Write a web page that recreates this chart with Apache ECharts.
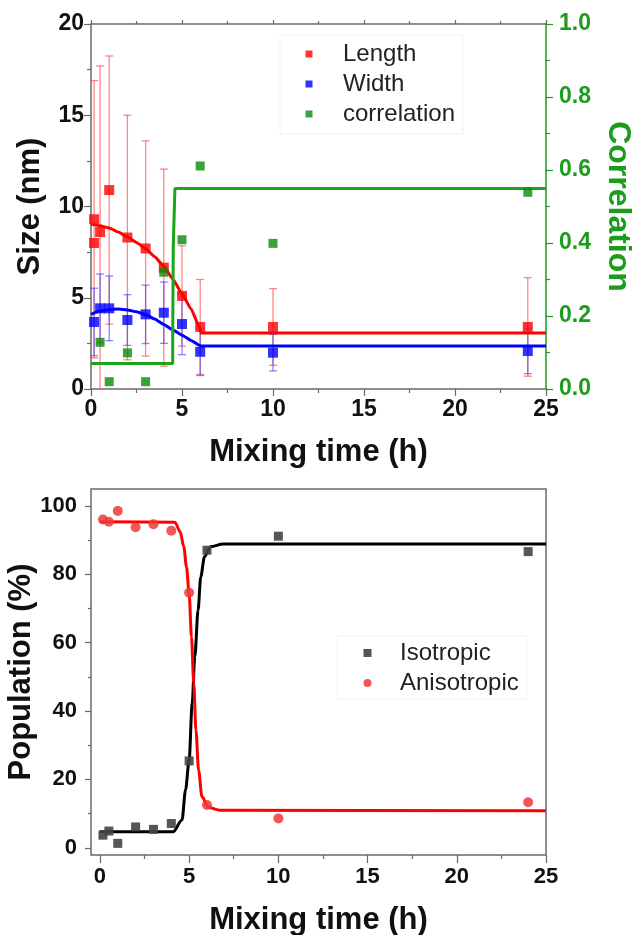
<!DOCTYPE html>
<html><head><meta charset="utf-8">
<script src="https://cdn.jsdelivr.net/npm/echarts@6/dist/echarts.min.js"></script>
<style>html,body{margin:0;padding:0;background:#fff}#c{width:632px;height:935px}</style>
</head><body><div id="c"></div>
<script>
// ---------- Top panel data ----------
const lengthTime = [0.17, 0.17, 0.5, 1, 2, 3, 4, 5, 6, 10, 24];
const lengthVal  = [9.3, 8.0, 8.6, 10.9, 8.3, 7.7, 6.65, 5.1, 3.4, 3.4, 3.4];
const lengthErr  = [7.6, null, 9.1, 7.35, 6.7, 5.9, 5.4, 2.75, 2.6, 2.1, 2.7];

const widthTime = [0.17, 0.5, 1, 2, 3, 4, 5, 6, 10, 24];
const widthVal  = [3.67, 4.42, 4.42, 3.78, 4.09, 4.18, 3.56, 2.04, 1.99, 2.08];
const widthErr  = [1.85, 1.88, 1.77, 1.39, 1.6, 1.68, 1.68, 1.3, 1.0, 1.24];

const corrTime = [0.5, 1, 2, 3, 4, 5, 6, 10, 24];
const corrVal  = [0.128, 0.02, 0.099, 0.02, 0.32, 0.409, 0.611, 0.399, 0.539];

const lengthFitX = [0, 0.5, 1, 1.5, 2, 2.5, 3, 3.5, 4, 4.5, 5, 5.5, 5.95, 6.05, 25];
const lengthFitY = [9.02, 8.95, 8.82, 8.6, 8.33, 8.03, 7.68, 7.25, 6.72, 6.02, 5.22, 4.38, 3.4, 3.07, 3.07];
const widthFitX = [0, 0.5, 1, 1.5, 2, 2.5, 3, 3.5, 4, 4.5, 5, 5.5, 5.95, 6.05, 25];
const widthFitY = [4.09, 4.27, 4.36, 4.38, 4.33, 4.23, 4.07, 3.83, 3.53, 3.23, 2.95, 2.66, 2.4, 2.36, 2.36];
const corrFitX = [0, 4.49, 4.49, 4.52, 4.52, 4.61, 4.61, 25];
const corrFitY = [0.07, 0.07, 0.145, 0.145, 0.39, 0.39, 0.549, 0.549];

// ---------- Bottom panel data ----------
const popTime   = [0.17, 0.5, 1, 2, 3, 4, 5, 6, 10, 24];
const isoVal    = [3.7, 4.9, 1.3, 6.1, 5.4, 7.1, 25.4, 87.0, 91.1, 86.6];
const anisoVal  = [96.0, 95.3, 98.5, 93.7, 94.6, 92.7, 74.6, 12.5, 8.6, 13.3];

const isoFitX = [0, 4.1, 4.6, 4.8, 5.0, 5.17, 5.32, 5.5, 5.65, 5.86, 6.2, 6.9, 25];
const isoFitY = [4.7, 4.7, 8.1, 17, 25.6, 42.3, 55.9, 69.5, 79.2, 85.1, 88, 88.8, 88.8];
const anisoFitX = [0, 4.2, 4.5, 4.7, 4.85, 5.0, 5.13, 5.26, 5.38, 5.53, 5.72, 6.08, 6.74, 25];
const anisoFitY = [95.3, 95.2, 92.4, 88, 82.2, 74.4, 61.7, 48, 34.4, 22.7, 14.9, 11.8, 11.0, 10.8];

// ---------- Tick values ----------
const popXTicks = [0, 5, 10, 15, 20, 25];
const popXMinor = [2.5, 7.5, 12.5, 17.5, 22.5];
const popYTicks = [0, 20, 40, 60, 80, 100];
const popYMinor = [10, 30, 50, 70, 90];

const FONT = "'Liberation Sans', Arial, sans-serif";
const AX = '#6a6a6a';
const GREEN = '#1c9c1c';
const sq = 'path://M0,0L10,0L10,10L0,10Z';
// legend icons: a small mark centred in a wide invisible box
const legSqTop = 'path://M0,0M58,7M25.5,0L32.5,0L32.5,7L25.5,7Z';
const legSqBot = 'path://M0,0M55,8M23.5,0L31.5,0L31.5,8L23.5,8Z';
const legCircBot = 'path://M0,0M55,8M23.5,4A4,4,0,1,0,31.5,4A4,4,0,1,0,23.5,4Z';

function pairs(xs, ys) { return xs.map((x, i) => [x, ys[i]]); }
function errData(xs, ys, es) {
  return xs.map((x, i) => [x, ys[i], es[i]]).filter(d => d[2] != null);
}
function errRender(color) {
  return function (params, api) {
    const x = api.value(0), y = api.value(1), e = api.value(2);
    const cs = params.coordSys;
    const yMin = cs.y, yMax = cs.y + cs.height;
    const pt = api.coord([x, y + e]);
    const pb = api.coord([x, y - e]);
    const t = Math.max(yMin, pt[1]);
    const b = Math.min(yMax, pb[1]);
    const st = { stroke: color, lineWidth: 1.3 };
    const ch = [{ type: 'line', shape: { x1: pt[0], y1: t, x2: pt[0], y2: b }, style: st }];
    if (pt[1] >= yMin) ch.push({ type: 'line', shape: { x1: pt[0] - 4, y1: pt[1], x2: pt[0] + 4, y2: pt[1] }, style: st });
    if (pb[1] <= yMax) ch.push({ type: 'line', shape: { x1: pb[0] - 4, y1: pb[1], x2: pb[0] + 4, y2: pb[1] }, style: st });
    return { type: 'group', children: ch };
  };
}

const tickLbl = (size, color) => ({ fontFamily: FONT, fontWeight: 'bold', fontSize: size, color: color || '#111' });
const nameStyle = (color) => ({ fontFamily: FONT, fontWeight: 'bold', fontSize: 31, color: color || '#111' });

const chart = echarts.init(document.getElementById('c'));
chart.setOption({
  animation: false,
  backgroundColor: '#fff',
  grid: [
    { left: 91, top: 24, width: 455, height: 365, show: false, outerBoundsMode: 'none', containLabel: false },
    { left: 91, top: 489, width: 455, height: 366, show: true, borderColor: AX, borderWidth: 1.5, backgroundColor: '#fff', outerBoundsMode: 'none', containLabel: false }
  ],
  legend: [
    {
      orient: 'vertical', left: 280, top: 35, padding: [7, 8, 8, 0],
      itemWidth: 58, itemHeight: 7, itemGap: 6, symbolKeepAspect: false,
      backgroundColor: '#fff', borderColor: '#f2f2f2', borderWidth: 1,
      textStyle: { fontFamily: FONT, fontSize: 24, color: '#222', lineHeight: 23 },
      data: [
        { name: 'Length', icon: legSqTop, itemStyle: { color: '#ff0000' } },
        { name: 'Width', icon: legSqTop, itemStyle: { color: '#0000ff' } },
        { name: 'correlation', icon: legSqTop, itemStyle: { color: '#0a8a0a' } }
      ]
    },
    {
      orient: 'vertical', left: 337, top: 636, padding: [5, 8, 4, 3],
      itemWidth: 55, itemHeight: 8, itemGap: 6, symbolKeepAspect: false,
      backgroundColor: '#fff', borderColor: '#f2f2f2', borderWidth: 1,
      textStyle: { fontFamily: FONT, fontSize: 24, color: '#222', lineHeight: 23 },
      data: [
        { name: 'Isotropic', icon: legSqBot, itemStyle: { color: '#444' } },
        { name: 'Anisotropic', icon: legCircBot, itemStyle: { color: '#f03a3a' } }
      ]
    }
  ],
  xAxis: [
    {
      gridIndex: 0, type: 'value', min: 0, max: 25, interval: 5, position: 'bottom',
      axisLine: { onZero: false, lineStyle: { color: AX, width: 1.5 } },
      axisTick: { length: 7, lineStyle: { color: AX, width: 1.2 } },
      minorTick: { show: true, splitNumber: 2, length: 4, lineStyle: { color: AX, width: 1.2 } },
      splitLine: { show: false },
      axisLabel: Object.assign({ margin: 9 }, tickLbl(23)),
      name: 'Mixing time (h)', nameLocation: 'middle', nameGap: 48, nameTextStyle: nameStyle()
    },
    {
      gridIndex: 0, type: 'value', min: 0, max: 25, interval: 5, position: 'top',
      axisLine: { onZero: false, lineStyle: { color: AX, width: 1.5 } },
      axisTick: { length: 4, lineStyle: { color: AX, width: 1.2 } },
      minorTick: { show: true, splitNumber: 2, length: 3, lineStyle: { color: AX, width: 1.2 } },
      splitLine: { show: false }, axisLabel: { show: false }
    },
    {
      gridIndex: 1, type: 'value', min: -0.5, max: 25, position: 'bottom',
      axisLine: { show: false, onZero: false },
      axisTick: { show: true, customValues: popXTicks, length: 8, lineStyle: { color: AX, width: 1.2 } },
      splitLine: { show: false },
      axisLabel: Object.assign({ margin: 11, customValues: popXTicks }, tickLbl(22)),
      name: 'Mixing time (h)', nameLocation: 'middle', nameGap: 50, nameTextStyle: nameStyle()
    },
    {
      gridIndex: 1, type: 'value', min: -0.5, max: 25, position: 'bottom',
      axisLine: { show: false, onZero: false },
      axisTick: { show: true, customValues: popXMinor, length: 4, lineStyle: { color: AX, width: 1.2 } },
      splitLine: { show: false }, axisLabel: { show: false }
    }
  ],
  yAxis: [
    {
      gridIndex: 0, type: 'value', min: 0, max: 20, interval: 5, position: 'left',
      axisLine: { show: true, onZero: false, lineStyle: { color: AX, width: 1.5 } },
      axisTick: { show: true, length: 7, lineStyle: { color: AX, width: 1.2 } },
      minorTick: { show: true, splitNumber: 2, length: 4, lineStyle: { color: AX, width: 1.2 } },
      splitLine: { show: false },
      axisLabel: Object.assign({ margin: 7 }, tickLbl(23)),
      name: 'Size (nm)', nameLocation: 'middle', nameRotate: 90, nameGap: 45, nameTextStyle: nameStyle()
    },
    {
      gridIndex: 0, type: 'value', min: 0, max: 1, interval: 0.2, position: 'right',
      axisLine: { show: true, onZero: false, lineStyle: { color: GREEN, width: 1.5 } },
      axisTick: { show: true, length: 7, lineStyle: { color: GREEN, width: 1.2 } },
      minorTick: { show: true, splitNumber: 2, length: 4, lineStyle: { color: GREEN, width: 1.2 } },
      splitLine: { show: false },
      axisLabel: Object.assign({ margin: 13, formatter: v => v.toFixed(1) }, tickLbl(23, GREEN)),
      name: 'Correlation', nameLocation: 'middle', nameRotate: -90, nameGap: 56,
      nameTextStyle: Object.assign(nameStyle(GREEN), { fontSize: 32 })
    },
    {
      gridIndex: 1, type: 'value', min: -2.1, max: 104.9, position: 'left',
      axisLine: { show: false, onZero: false },
      axisTick: { show: true, customValues: popYTicks, length: 6, lineStyle: { color: AX, width: 1.2 } },
      splitLine: { show: false },
      axisLabel: Object.assign({ margin: 14, customValues: popYTicks }, tickLbl(22)),
      name: 'Population (%)', nameLocation: 'middle', nameRotate: 90, nameGap: 54, nameMoveOverlap: false,
      nameTextStyle: nameStyle()
    },
    {
      gridIndex: 1, type: 'value', min: -2.1, max: 104.9, position: 'left',
      axisLine: { show: false, onZero: false },
      axisTick: { show: true, customValues: popYMinor, length: 3, lineStyle: { color: AX, width: 1.2 } },
      splitLine: { show: false }, axisLabel: { show: false }
    }
  ],
  series: [
    { type: 'custom', name: 'LengthErr', xAxisIndex: 0, yAxisIndex: 0, renderItem: errRender('rgba(255,70,70,0.65)'),
      data: errData(lengthTime, lengthVal, lengthErr), z: 1, silent: true },
    { type: 'custom', name: 'WidthErr', xAxisIndex: 0, yAxisIndex: 0, renderItem: errRender('rgba(70,70,255,0.65)'),
      data: errData(widthTime, widthVal, widthErr), z: 1, silent: true },
    { type: 'line', name: 'LengthFit', xAxisIndex: 0, yAxisIndex: 0, data: pairs(lengthFitX, lengthFitY),
      showSymbol: false, smooth: 0.15, smoothMonotone: 'x', lineStyle: { color: '#ff0000', width: 3 }, z: 2 },
    { type: 'line', name: 'WidthFit', xAxisIndex: 0, yAxisIndex: 0, data: pairs(widthFitX, widthFitY),
      showSymbol: false, smooth: 0.15, smoothMonotone: 'x', lineStyle: { color: '#0000ff', width: 3 }, z: 2 },
    { type: 'line', name: 'CorrFit', xAxisIndex: 0, yAxisIndex: 1, data: pairs(corrFitX, corrFitY),
      showSymbol: false, lineStyle: { color: '#1aa51a', width: 3 }, z: 2 },
    { type: 'scatter', name: 'Length', xAxisIndex: 0, yAxisIndex: 0, data: pairs(lengthTime, lengthVal),
      symbol: sq, symbolSize: 10, itemStyle: { color: '#ff0000' }, z: 3 },
    { type: 'scatter', name: 'Width', xAxisIndex: 0, yAxisIndex: 0, data: pairs(widthTime, widthVal),
      symbol: sq, symbolSize: 10, itemStyle: { color: '#0000ff' }, z: 3 },
    { type: 'scatter', name: 'correlation', xAxisIndex: 0, yAxisIndex: 1, data: pairs(corrTime, corrVal),
      symbol: sq, symbolSize: 9, itemStyle: { color: '#0a8a0a' }, z: 3 },

    { type: 'line', name: 'IsoFit', xAxisIndex: 2, yAxisIndex: 2, data: pairs(isoFitX, isoFitY),
      showSymbol: false, smooth: 0.3, smoothMonotone: 'x', lineStyle: { color: '#000', width: 3 }, z: 2 },
    { type: 'line', name: 'AnisoFit', xAxisIndex: 2, yAxisIndex: 2, data: pairs(anisoFitX, anisoFitY),
      showSymbol: false, smooth: 0.3, smoothMonotone: 'x', lineStyle: { color: '#ff0000', width: 3 }, z: 2 },
    { type: 'scatter', name: 'Isotropic', xAxisIndex: 2, yAxisIndex: 2, data: pairs(popTime, isoVal),
      symbol: sq, symbolSize: 9, itemStyle: { color: '#444', opacity: 0.9 }, z: 3 },
    { type: 'scatter', name: 'Anisotropic', xAxisIndex: 2, yAxisIndex: 2, data: pairs(popTime, anisoVal),
      symbol: 'circle', symbolSize: 10, itemStyle: { color: '#f03a3a', opacity: 0.85 }, z: 3 }
  ]
});
</script>
</body></html>
